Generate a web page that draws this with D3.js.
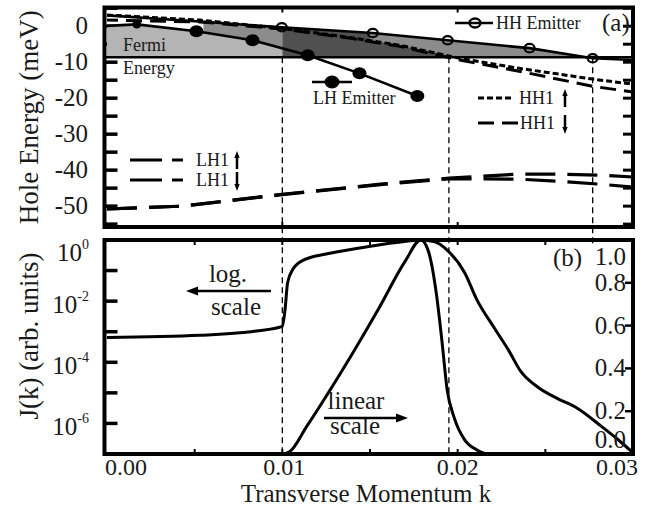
<!DOCTYPE html>
<html>
<head>
<meta charset="utf-8">
<script src="https://cdn.jsdelivr.net/npm/d3@7"></script>
<style>
body { margin: 0; background: #fff; }
svg text { font-family: "Liberation Serif", "Times New Roman", serif; }
</style>
</head>
<body>
<div id="chart"></div>
<script>
// Panel (a): hole dispersion, energy in meV vs transverse momentum k
const hhEmitK = [0, 0.0059, 0.00997, 0.01516, 0.01943, 0.0241, 0.0277, 0.03];
const hhEmitE = [3.0, 1.1, -0.3, -1.9, -3.9, -6.1, -8.9, -9.4];
const hhEmitDots = [2, 3, 4, 5, 6];

const lhEmitK = [0, 0.0017, 0.0051, 0.0083, 0.01145, 0.0144, 0.0177];
const lhEmitE = [0.1, 0.5, -1.4, -3.9, -8.1, -13.1, -19.4];
const lhEmitDots = [1, 2, 3, 4, 5, 6];

const hh1UpK = [0, 0.0053, 0.01, 0.0138, 0.0167, 0.0201, 0.0235, 0.0277, 0.03];
const hh1UpE = [3.1, 1.7, -0.6, -3.1, -5.3, -8.9, -11.7, -14.7, -16.1];
const hh1DownK = [0, 0.0053, 0.01, 0.0138, 0.0167, 0.0201, 0.0235, 0.0277, 0.03];
const hh1DownE = [1.7, 1.2, -0.8, -3.3, -5.6, -9.4, -12.5, -16.7, -18.3];

const lh1UpK = [0, 0.0043, 0.01, 0.0156, 0.0195, 0.0235, 0.0258, 0.0281, 0.03];
const lh1UpE = [-50.8, -50.0, -46.7, -43.9, -42.2, -41.1, -41.1, -41.4, -41.9];
const lh1DownK = [0, 0.0043, 0.01, 0.0156, 0.0195, 0.0235, 0.0258, 0.0281, 0.03];
const lh1DownE = [-50.8, -50.0, -46.8, -44.0, -42.4, -42.5, -43.1, -43.9, -44.7];

const fermiE = -8.6;
const markK = [0.01, 0.0195, 0.0277];

const eTicks = [5, 0, -5, -10, -15, -20, -25, -30, -35, -40, -45, -50, -55];
const eLabels = [0, -10, -20, -30, -40, -50];

// Panel (b): current density
const logK = [0, 0.0053, 0.0085, 0.0100, 0.01015, 0.0103, 0.0106, 0.0112, 0.0125, 0.0145, 0.0165, 0.0179,
              0.0187, 0.0194, 0.0204, 0.0211, 0.0221, 0.0229, 0.0236, 0.0246, 0.0257, 0.0268, 0.0282, 0.0291, 0.03];
const logJ = [6.5e-4, 7.6e-4, 1.05e-3, 1.5e-3, 5e-3, 4e-2, 1.1e-1, 2.2e-1, 3.5e-1, 5.6e-1, 8.3e-1, 1.0,
              8.7e-1, 4.7e-1, 8.5e-2, 1.1e-2, 1.3e-3, 2.5e-4, 5e-5, 1.5e-5, 6.5e-6, 3.2e-6, 8e-7, 3.1e-7, 1.1e-7];

const linK = [0, 0.0100, 0.0104, 0.0114, 0.0125, 0.0140, 0.0155, 0.0170, 0.0179,
              0.0183, 0.0188, 0.0191, 0.0194, 0.0198, 0.0204, 0.0211, 0.0219, 0.03];
const linJ = [0, 0, 0.01, 0.13, 0.27, 0.47, 0.68, 0.90, 1.0,
              0.955, 0.74, 0.53, 0.30, 0.17, 0.066, 0.019, 0, 0];

const kTicks = [0, 0.01, 0.02, 0.03];
const kMinor = [0.005, 0.01, 0.015, 0.02, 0.025];
const logTicks = [1e-1, 1e-2, 1e-3, 1e-4, 1e-5, 1e-6];
const logLabels = [0, -2, -4, -6];
const linTicks = [0, 0.2, 0.4, 0.6, 0.8, 1.0];

const SERIF = "Liberation Serif";
const W = 655, H = 508;
const svg = d3.select("#chart").append("svg").attr("width", W).attr("height", H)
    .attr("font-family", SERIF);

// every label goes through here so it gets the serif face
function label(parent, size) {
    return parent.append("text").attr("font-size", size)
        .attr("font-family", SERIF).style("font-family", SERIF).attr("fill", "#1a1a1a");
}

const x = d3.scaleLinear().domain([0, 0.03]).range([107, 633]);
const yA = d3.scaleLinear().domain([-55.8, 5.2]).range([227, 7.5]);
const yLog = d3.scaleLog().domain([1e-7, 1]).range([454, 240]);
const yLin = d3.scaleLinear().domain([0, 1]).range([454, 240]);

const left = x(0) - 2.5, right = x(0.03);

const defs = svg.append("defs");
defs.append("clipPath").attr("id", "clipA").append("rect")
    .attr("x", left).attr("y", yA(5.2)).attr("width", right - left).attr("height", yA(-55.8) - yA(5.2));
defs.append("clipPath").attr("id", "clipB").append("rect")
    .attr("x", left).attr("y", 240).attr("width", right - left).attr("height", 214);

function interp(ks, vs, k) {
    if (k <= ks[0]) return vs[0];
    for (let i = 1; i < ks.length; i++) {
        if (k <= ks[i]) {
            const t = (k - ks[i - 1]) / (ks[i] - ks[i - 1]);
            return vs[i - 1] + t * (vs[i] - vs[i - 1]);
        }
    }
    return vs[vs.length - 1];
}
const HH = k => interp(hhEmitK, hhEmitE, k);
const LH = k => interp(lhEmitK, lhEmitE, k);
const HH1 = k => interp(hh1UpK, hh1UpE, k);

// ---------- panel (a) ticks (under the fills) ----------
const gA = svg.append("g");
gA.selectAll(".etl").data(eTicks).enter().append("line")
    .attr("x1", left).attr("x2", left + 13)
    .attr("y1", d => yA(d)).attr("y2", d => yA(d))
    .attr("stroke", "#000").attr("stroke-width", 3.5);
gA.selectAll(".etr").data(eTicks).enter().append("line")
    .attr("x1", right - 10).attr("x2", right)
    .attr("y1", d => yA(d)).attr("y2", d => yA(d))
    .attr("stroke", "#000").attr("stroke-width", 3);

// ---------- shaded regions ----------
function band(k0, k1, top, bottom, color) {
    const ks = d3.range(k0, k1 + 1e-9, 0.00005);
    const area = d3.area()
        .x(k => x(k))
        .y0(k => yA(bottom(k)))
        .y1(k => yA(Math.max(top(k), bottom(k))));
    gA.append("path").datum(ks).attr("d", area).attr("fill", color)
        .attr("clip-path", "url(#clipA)");
}
band(0, markK[0], LH, () => fermiE, "#b4b4b4");
band(0.0055, markK[0], HH, LH, "#8c8c8c");
band(markK[0], markK[1], HH, () => fermiE, "#505050");
band(0.0150, markK[1], HH, k => Math.max(HH1(k), fermiE), "#8c8c8c");
band(markK[1], markK[2], HH, () => fermiE, "#8c8c8c");

// Fermi level
gA.append("line").attr("x1", left).attr("x2", right)
    .attr("y1", yA(fermiE)).attr("y2", yA(fermiE))
    .attr("stroke", "#000").attr("stroke-width", 2.5);

// vertical dashed guides
svg.selectAll(".guide").data(markK).enter().append("line")
    .attr("x1", d => x(d)).attr("x2", d => x(d))
    .attr("y1", yA(fermiE))
    .attr("y2", (d, i) => i < 2 ? 454 : 244)
    .attr("stroke", "#000").attr("stroke-width", 1.3).attr("stroke-dasharray", "6,4");

// curves
const lineA = (ks, es) => d3.line().x((d, i) => x(ks[i])).y(d => yA(d))(es);
const curvesA = [
    { k: lh1UpK, e: lh1UpE, dash: "30,12", off: 0, w: 3.2 },
    { k: lh1DownK, e: lh1DownE, dash: "30,12", off: 0, w: 3.2 },
    { k: hh1UpK, e: hh1UpE, dash: "6,3", off: 0, w: 3 },
    { k: hh1DownK, e: hh1DownE, dash: "16,8", off: 5, w: 3 },
    { k: hhEmitK, e: hhEmitE, dash: null, off: 0, w: 2.6 },
    { k: lhEmitK, e: lhEmitE, dash: null, off: 0, w: 2.6 }
];
curvesA.forEach(c => {
    gA.append("path").attr("d", lineA(c.k, c.e))
        .attr("fill", "none").attr("stroke", "#000").attr("stroke-width", c.w)
        .attr("stroke-dasharray", c.dash).attr("stroke-dashoffset", c.off)
        .attr("clip-path", "url(#clipA)");
});

gA.selectAll(".lhdot").data(lhEmitDots).enter().append("ellipse")
    .attr("cx", i => x(lhEmitK[i])).attr("cy", i => yA(lhEmitE[i]))
    .attr("rx", (d, j) => j === 0 ? 4.5 : 7).attr("ry", (d, j) => j === 0 ? 4 : 6)
    .attr("fill", "#000");
gA.selectAll(".hhdot").data(hhEmitDots).enter().append("ellipse")
    .attr("cx", i => x(hhEmitK[i])).attr("cy", i => yA(hhEmitE[i]))
    .attr("rx", 5).attr("ry", 4.2)
    .attr("fill", "none").attr("stroke", "#000").attr("stroke-width", 2.2);

// panel (a) top/bottom ticks
gA.selectAll(".kta").data([0.01, 0.02]).enter().append("line")
    .attr("x1", d => x(d)).attr("x2", d => x(d))
    .attr("y1", yA(5.2)).attr("y2", yA(5.2) + 5)
    .attr("stroke", "#000").attr("stroke-width", 2);
gA.selectAll(".kba").data([0.01, 0.02]).enter().append("line")
    .attr("x1", d => x(d)).attr("x2", d => x(d))
    .attr("y1", yA(-55.8)).attr("y2", yA(-55.8) - 5)
    .attr("stroke", "#000").attr("stroke-width", 2);

// frame (a)
svg.append("rect").attr("x", left).attr("y", yA(5.2))
    .attr("width", right - left).attr("height", yA(-55.8) - yA(5.2))
    .attr("fill", "none").attr("stroke", "#000").attr("stroke-width", 4);

// y labels (a)
eLabels.forEach(d => {
    label(svg, 25).attr("x", 88).attr("y", yA(d) + 8).attr("text-anchor", "end").text(d);
});
label(svg, 27)
    .attr("transform", `translate(38,${(yA(5.2) + yA(-55.8)) / 2}) rotate(-90)`)
    .attr("text-anchor", "middle")
    .text("Hole Energy (meV)");

// annotations (a)
label(svg, 18).attr("x", 123).attr("y", 51).text("Fermi");
label(svg, 18).attr("x", 123).attr("y", 74).text("Energy");
label(svg, 25).attr("x", 602).attr("y", 31).text("(a)");

// HH emitter legend
svg.append("line").attr("x1", 455).attr("x2", 493).attr("y1", 23).attr("y2", 23)
    .attr("stroke", "#000").attr("stroke-width", 2.6);
svg.append("ellipse").attr("cx", 475).attr("cy", 23).attr("rx", 5.5).attr("ry", 4.5)
    .attr("fill", "none").attr("stroke", "#000").attr("stroke-width", 2.4);
label(svg, 18).attr("x", 496).attr("y", 29).text("HH Emitter");

// LH emitter legend
svg.append("line").attr("x1", 312).attr("x2", 352).attr("y1", 82).attr("y2", 82)
    .attr("stroke", "#000").attr("stroke-width", 2.6);
svg.append("ellipse").attr("cx", 332).attr("cy", 82).attr("rx", 7.5).attr("ry", 6.5).attr("fill", "#000");
label(svg, 18).attr("x", 313).attr("y", 104).text("LH Emitter");

function arrow(g, x0, y0, x1, y1, w, head) {
    const ang = Math.atan2(y1 - y0, x1 - x0);
    const bx = x1 - head * Math.cos(ang), by = y1 - head * Math.sin(ang);
    g.append("line").attr("x1", x0).attr("y1", y0).attr("x2", bx).attr("y2", by)
        .attr("stroke", "#000").attr("stroke-width", w);
    const px = Math.sin(ang) * head * 0.38, py = -Math.cos(ang) * head * 0.38;
    g.append("path")
        .attr("d", `M${x1},${y1}L${bx + px},${by + py}L${bx - px},${by - py}Z`)
        .attr("fill", "#000");
}

// HH1 / LH1 legends
const legA = [
    { x1: 478, x2: 511, y: 98, dash: "6,3", label: "HH1", tx: 519, up: true, ax: 565 },
    { x1: 478, x2: 518, y: 123, dash: "16,8", label: "HH1", tx: 520, up: false, ax: 565 },
    { x1: 130, x2: 183, y: 160, dash: "32,10", label: "LH1", tx: 196, up: true, ax: 237 },
    { x1: 130, x2: 183, y: 180, dash: "32,10", label: "LH1", tx: 196, up: false, ax: 237 }
];
legA.forEach(l => {
    svg.append("line").attr("x1", l.x1).attr("x2", l.x2).attr("y1", l.y).attr("y2", l.y)
        .attr("stroke", "#000").attr("stroke-width", 3).attr("stroke-dasharray", l.dash);
    label(svg, 18).attr("x", l.tx).attr("y", l.y + 6).text(l.label);
    if (l.up) arrow(svg, l.ax, l.y + 9, l.ax, l.y - 9, 2.5, 7);
    else arrow(svg, l.ax, l.y - 8, l.ax, l.y + 11, 2.5, 7);
});

// ---------- panel (b) ----------
const gB = svg.append("g");
gB.selectAll(".lt").data(logTicks).enter().append("line")
    .attr("x1", left).attr("x2", left + 13)
    .attr("y1", d => yLog(d)).attr("y2", d => yLog(d))
    .attr("stroke", "#000").attr("stroke-width", 3.5);
gB.selectAll(".rt").data(linTicks).enter().append("line")
    .attr("x1", right - 8).attr("x2", right)
    .attr("y1", d => yLin(d)).attr("y2", d => yLin(d))
    .attr("stroke", "#000").attr("stroke-width", 2.5);
gB.selectAll(".ktb").data(kMinor).enter().append("line")
    .attr("x1", d => x(d)).attr("x2", d => x(d))
    .attr("y1", 240).attr("y2", 245)
    .attr("stroke", "#000").attr("stroke-width", 2);
gB.selectAll(".kbb").data(kMinor).enter().append("line")
    .attr("x1", d => x(d)).attr("x2", d => x(d))
    .attr("y1", 454).attr("y2", 449)
    .attr("stroke", "#000").attr("stroke-width", 2);

const lineLog = d3.line().x((d, i) => x(logK[i])).y(d => yLog(d)).curve(d3.curveMonotoneX);
const lineLin = d3.line().x((d, i) => x(linK[i])).y(d => yLin(d)).curve(d3.curveMonotoneX);
gB.append("path").attr("d", lineLog(logJ)).attr("fill", "none")
    .attr("stroke", "#000").attr("stroke-width", 3).attr("clip-path", "url(#clipB)");
gB.append("path").attr("d", lineLin(linJ)).attr("fill", "none")
    .attr("stroke", "#000").attr("stroke-width", 3).attr("clip-path", "url(#clipB)");

svg.append("rect").attr("x", left).attr("y", 240)
    .attr("width", right - left).attr("height", 214)
    .attr("fill", "none").attr("stroke", "#000").attr("stroke-width", 4);

// left log labels
logLabels.forEach(d => {
    const t = label(svg, 25).attr("x", 89)
        .attr("y", yLog(Math.pow(10, d)) + (d === 0 ? 21 : 12))
        .attr("text-anchor", "end");
    t.append("tspan").text("10");
    t.append("tspan").attr("dy", -12).attr("font-size", 14).text(d === 0 ? "0" : "-" + Math.abs(d));
});

// right linear labels
linTicks.forEach(d => {
    label(svg, 25).attr("x", 626)
        .attr("y", yLin(d) + 8 + (d === 1 ? 17 : d === 0 ? -14 : 0))
        .attr("text-anchor", "end")
        .text(d.toFixed(1));
});

label(svg, 27)
    .attr("transform", `translate(38,336) rotate(-90)`)
    .attr("text-anchor", "middle")
    .text("J(k) (arb. units)");

label(svg, 25).attr("x", 553).attr("y", 266).text("(b)");

// x labels
const kLabelDx = [19, 2, 0, -16];
kTicks.forEach((d, i) => {
    label(svg, 24).attr("x", x(d) + kLabelDx[i]).attr("y", 475)
        .attr("text-anchor", "middle").text(d.toFixed(2));
});
label(svg, 25).attr("x", 366).attr("y", 502)
    .attr("text-anchor", "middle")
    .text("Transverse Momentum k");

// scale annotations
label(svg, 25).attr("x", 228).attr("y", 282).attr("text-anchor", "middle").text("log.");
label(svg, 25).attr("x", 236).attr("y", 315).attr("text-anchor", "middle").text("scale");
arrow(svg, 271, 291, 186, 291, 2.5, 12);
label(svg, 25).attr("x", 356).attr("y", 409).attr("text-anchor", "middle").text("linear");
label(svg, 25).attr("x", 355).attr("y", 434).attr("text-anchor", "middle").text("scale");
arrow(svg, 324, 418, 408, 418, 2.5, 12);
</script>
</body>
</html>
